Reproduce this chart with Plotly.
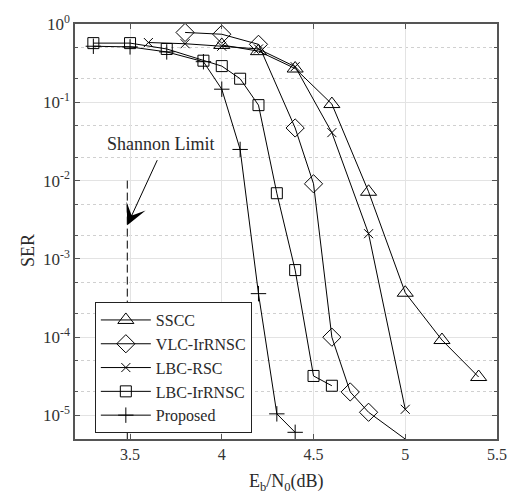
import numpy as np
import plotly.graph_objects as go

# ---- data ----
sscc_x = [4.0, 4.2, 4.4, 4.6, 4.8, 5.0, 5.2, 5.4]
sscc_y = [0.54, 0.45, 0.27, 0.095, 0.0072, 3.7e-4, 9.2e-5, 3.1e-5]

vlc_x = [3.8, 4.0, 4.2, 4.4, 4.5, 4.6, 4.7, 4.8, 5.0]
vlc_y = [0.78, 0.74, 0.55, 0.047, 0.0091, 1.0e-4, 2.0e-5, 1.1e-5, 5.0e-6]

lbcrsc_x = [3.6, 3.8, 4.0, 4.2, 4.4, 4.6, 4.8, 5.0]
lbcrsc_y = [0.58, 0.56, 0.52, 0.48, 0.285, 0.041, 0.0021, 1.2e-5]

lbcir_x = [3.3, 3.5, 3.7, 3.9, 4.0, 4.1, 4.2, 4.3, 4.4, 4.5, 4.6]
lbcir_y = [0.57, 0.57, 0.48, 0.34, 0.29, 0.2, 0.092, 0.0069, 7.2e-4, 3.2e-5, 2.4e-5]

prop_x = [3.3, 3.5, 3.7, 3.9, 4.0, 4.1, 4.2, 4.3, 4.4]
prop_y = [0.52, 0.51, 0.44, 0.33, 0.147, 0.025, 3.6e-4, 1.05e-5, 6.1e-6]

shannon_x = [3.485, 3.485]
shannon_y = [1e-2, 5e-6]

x_ticks = [3.5, 4, 4.5, 5, 5.5]
x_ticktext = ["3.5", "4", "4.5", "5", "5.5"]
y_ticks = [1, 1e-1, 1e-2, 1e-3, 1e-4, 1e-5]
y_ticktext = ["10<sup>0</sup>", "10<sup>-1</sup>", "10<sup>-2</sup>",
              "10<sup>-3</sup>", "10<sup>-4</sup>", "10<sup>-5</sup>"]

FONT = "Liberation Serif"
TXT = "#2a2a2a"

series = [
    ("SSCC", sscc_x, sscc_y, "triangle-up-open", 14),
    ("VLC-IrRNSC", vlc_x, vlc_y, "diamond-open", 14),
    ("LBC-RSC", lbcrsc_x, lbcrsc_y, "x-thin-open", 9),
    ("LBC-IrRNSC", lbcir_x, lbcir_y, "square-open", 11),
    ("Proposed", prop_x, prop_y, "cross-thin-open", 11),
]

fig = go.Figure()
for name, xs, ys, sym, sz in series:
    fig.add_trace(go.Scatter(
        x=xs, y=ys, name=name, mode="lines+markers",
        line=dict(color="black", width=1),
        marker=dict(symbol=sym, size=sz, color="black",
                    line=dict(color="black", width=1)),
        cliponaxis=False,
    ))

fig.add_trace(go.Scatter(
    x=shannon_x, y=shannon_y, mode="lines", showlegend=False,
    line=dict(color="black", width=1, dash="8px,4px"),
))

fig.add_annotation(
    x=3.485, y=np.log10(2.7e-3), ax=3.652, ay=-1.72,
    xref="x", yref="y", axref="x", ayref="y",
    text="", showarrow=True, arrowhead=3, arrowsize=3.5, arrowwidth=1,
    arrowcolor="black",
)
fig.add_annotation(
    x=3.668, y=-1.533, xref="x", yref="y", text="Shannon Limit",
    showarrow=False, font=dict(family=FONT, size=18, color=TXT),
)

# axis titles
fig.add_annotation(
    x=0.5, y=-0.105, xref="paper", yref="paper", yanchor="middle",
    text="E<sub>b</sub>/N<sub>0</sub>(dB)", showarrow=False,
    font=dict(family=FONT, size=18, color=TXT),
)
fig.add_annotation(
    x=-0.14, y=0.455, xref="paper", yref="paper", textangle=-90,
    text="SER", showarrow=False,
    font=dict(family=FONT, size=18, color=TXT),
)

fig.update_layout(
    width=508, height=496,
    margin=dict(l=75, r=11, t=24, b=57),
    paper_bgcolor="white", plot_bgcolor="white",
    font=dict(family=FONT, size=17, color=TXT),
    showlegend=True,
    legend=dict(
        x=0.047, y=0.33, xanchor="left", yanchor="top",
        bgcolor="white", bordercolor="#222", borderwidth=1,
        font=dict(family=FONT, size=16, color=TXT),
        tracegroupgap=0, itemwidth=50,
    ),
)

fig.update_xaxes(
    range=[3.2, 5.5], tickvals=x_ticks, ticktext=x_ticktext,
    showgrid=True, gridcolor="#e3e3e3", gridwidth=1,
    showline=True, linecolor="#555", linewidth=1.5, mirror="allticks",
    ticks="inside", ticklen=5, tickcolor="#555",
    zeroline=False, automargin=False,
    tickfont=dict(size=16, color="#333"),
)
fig.update_yaxes(
    type="log", range=[-5.3, 0], tickvals=y_ticks, ticktext=y_ticktext,
    showgrid=True, gridcolor="#e3e3e3", gridwidth=1,
    showline=True, linecolor="#555", linewidth=1.5, mirror="allticks",
    ticks="inside", ticklen=5, tickcolor="#555",
    minor=dict(ticks="inside", ticklen=3, tickcolor="#555", showgrid=True,
               gridcolor="#d0d0d0", griddash="dot", gridwidth=1),
    zeroline=False, automargin=False,
    tickfont=dict(size=17, color="#333"),
)

fig.write_html(
    "out.html",
    config={"displayModeBar": False},
    post_script="document.body.style.margin='0';document.body.style.overflow='hidden';",
)
